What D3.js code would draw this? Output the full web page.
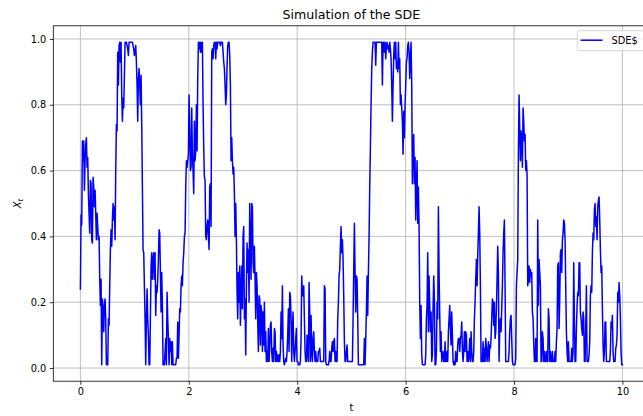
<!DOCTYPE html>
<html>
<head>
<meta charset="utf-8">
<script src="https://cdn.jsdelivr.net/npm/d3@7"></script>
<style>
  body { margin: 0; background: #fff; }
  svg { display: block; }
  text { font-family: "DejaVu Sans", sans-serif; fill: #000; }
</style>
</head>
<body>
<svg id="chart" width="643" height="416"></svg>
<script>
// Simulated path X_t on 0 <= t <= 10, sampled on a uniform grid of 814 points.
const tEnd = 10;
const nSteps = 813;

// Path values, split into consecutive stretches of the time grid.
const stretch1 = [ // t = 0 .. 1.28
  0.24,0.465,0.435,0.69,0.63,0.69,0.54,0.63,0.68,0.70,
  0.61,0.64,0.53,0.47,0.41,0.57,0.56,0.39,0.38,0.58,
  0.55,0.49,0.54,0.47,0.39,0.47,0.43,0.39,0.40,0.27,
  0.19,0.27,0.01,0.21,0.18,0.11,0.19,0.21,0.15,0.01,
  0.01,0.01,0.15,0.13,0.25,0.36,0.42,0.37,0.45,0.50,
  0.45,0.49,0.39,0.60,0.74,0.72,0.96,0.86,0.98,0.99,
  0.93,0.99,0.83,0.75,0.82,0.79,0.89,0.99,0.99,0.99,
  0.98,0.97,0.95,0.99,0.99,0.99,0.99,0.99,0.99,0.98,
  0.97,0.95,0.96,0.98,0.93,0.86,0.75,0.88,0.91,0.86,
  0.80,0.89,0.74,0.55,0.36,0.35,0.25,0.15,0.01,0.15,
  0.24,0.15,0.10,0.01,0.01
];
const stretch2 = [ // t = 1.29 .. 3.12
  0.15,0.31,0.35,0.27,0.33,0.35,0.27,0.35,0.16,0.25,
  0.23,0.27,0.33,0.42,0.41,0.29,0.17,0.29,0.19,0.01,
  0.01,0.01,0.05,0.09,0.01,0.23,0.15,0.09,0.01,0.09,
  0.05,0.08,0.01,0.08,0.01,0.01,0.01,0.01,0.01,0.03,
  0.03,0.14,0.03,0.10,0.18,0.17,0.25,0.28,0.25,0.32,
  0.35,0.40,0.41,0.55,0.63,0.61,0.63,0.65,0.83,0.73,
  0.60,0.61,0.79,0.65,0.60,0.53,0.75,0.63,0.66,0.80,
  0.66,0.88,0.99,0.97,0.99,0.96,0.99,0.96,0.99,0.80,
  0.67,0.58,0.57,0.40,0.39,0.43,0.45,0.41,0.36,0.55,
  0.56,0.43,0.96,0.97,0.94,0.98,0.99,0.99,0.94,0.99,
  0.97,0.99,0.99,0.99,0.99,0.98,0.99,0.99,0.99,0.96,
  0.93,0.91,0.86,0.80,0.83,0.92,0.98,0.99,0.99,0.95,
  0.86,0.63,0.70,0.63,0.59,0.61,0.53,0.40,0.50,0.39,
  0.23,0.15,0.29,0.20,0.31,0.13,0.23,0.31,0.18,0.40,
  0.43,0.15,0.21,0.04,0.25,0.38,0.29,0.36,0.20,0.50
];
const stretch3 = [ // t = 3.14 .. 4.97
  0.37,0.27,0.50,0.49,0.32,0.29,0.37,0.27,0.15,0.29,
  0.25,0.14,0.05,0.22,0.21,0.07,0.19,0.17,0.05,0.17,
  0.07,0.20,0.05,0.11,0.02,0.05,0.02,0.12,0.02,0.06,
  0.13,0.14,0.05,0.02,0.06,0.02,0.12,0.11,0.02,0.05,
  0.02,0.04,0.02,0.04,0.02,0.05,0.17,0.09,0.25,0.07,
  0.02,0.01,0.02,0.03,0.02,0.05,0.10,0.18,0.05,0.23,
  0.22,0.15,0.02,0.12,0.17,0.05,0.02,0.05,0.09,0.12,
  0.02,0.02,0.01,0.01,0.01,0.02,0.09,0.28,0.22,0.22,
  0.25,0.15,0.05,0.02,0.02,0.10,0.05,0.02,0.26,0.17,
  0.02,0.16,0.05,0.02,0.09,0.11,0.05,0.02,0.05,0.02,
  0.02,0.02,0.05,0.05,0.06,0.02,0.02,0.02,0.02,0.02,
  0.02,0.25,0.24,0.02,0.01,0.01,0.01,0.01,0.02,0.05,
  0.02,0.02,0.06,0.08,0.05,0.08,0.09,0.02,0.05,0.02,
  0.02,0.15,0.20,0.28,0.30,0.37,0.43,0.35,0.39,0.33,
  0.22,0.08,0.02,0.02,0.05,0.07,0.02,0.02,0.02,0.02
];
const stretch4 = [ // t = 4.98 .. 6.82
  0.02,0.02,0.02,0.02,0.15,0.30,0.44,0.29,0.17,0.28,
  0.27,0.15,0.01,0.01,0.01,0.01,0.01,0.01,0.01,0.01,
  0.01,0.09,0.01,0.09,0.17,0.28,0.16,0.29,0.40,0.55,
  0.67,0.80,0.91,0.96,0.99,0.99,0.99,0.99,0.92,0.99,
  0.99,0.99,0.99,0.99,0.99,0.99,0.99,0.99,0.86,0.99,
  0.99,0.96,0.99,0.94,0.98,0.99,0.97,0.98,0.96,0.99,
  0.97,0.94,0.86,0.75,0.86,0.95,0.99,0.94,0.99,0.91,
  0.93,0.90,0.99,0.91,0.94,0.80,0.83,0.79,0.75,0.65,
  0.78,0.70,0.80,0.86,0.93,0.94,0.98,0.99,0.96,0.88,
  0.94,0.99,0.86,0.56,0.67,0.71,0.56,0.64,0.45,0.55,
  0.63,0.44,0.55,0.43,0.20,0.09,0.19,0.04,0.01,0.01,
  0.01,0.01,0.01,0.04,0.15,0.19,0.35,0.11,0.28,0.19,
  0.11,0.17,0.02,0.04,0.18,0.28,0.21,0.01,0.01,0.05,
  0.20,0.15,0.49,0.29,0.16,0.05,0.11,0.02,0.04,0.05,
  0.02,0.02,0.08,0.02,0.02,0.05,0.02,0.11,0.15,0.19
];
const stretch5 = [ // t = 6.83 .. 8.47
  0.12,0.07,0.17,0.10,0.02,0.01,0.02,0.01,0.05,0.02,
  0.02,0.07,0.09,0.09,0.05,0.09,0.10,0.14,0.05,0.02,
  0.05,0.11,0.05,0.11,0.10,0.02,0.05,0.02,0.04,0.09,
  0.02,0.11,0.05,0.02,0.02,0.05,0.15,0.20,0.27,0.33,
  0.25,0.34,0.41,0.49,0.41,0.25,0.02,0.02,0.02,0.08,
  0.02,0.06,0.02,0.09,0.06,0.02,0.05,0.08,0.02,0.07,
  0.06,0.09,0.15,0.21,0.20,0.13,0.20,0.09,0.11,0.18,
  0.27,0.37,0.29,0.02,0.12,0.15,0.11,0.18,0.25,0.35,
  0.41,0.45,0.25,0.02,0.02,0.02,0.02,0.02,0.05,0.11,
  0.15,0.16,0.09,0.02,0.01,0.01,0.01,0.01,0.03,0.25,
  0.29,0.33,0.65,0.83,0.73,0.63,0.72,0.68,0.61,0.79,
  0.75,0.69,0.71,0.60,0.63,0.59,0.25,0.27,0.31,0.26,
  0.30,0.28,0.29,0.17,0.15,0.08,0.02,0.02,0.09,0.02,
  0.02,0.45,0.19,0.33,0.29
];
const stretch6 = [ // t = 8.49 .. 10
  0.25,0.02,0.02,0.11,0.09,0.02,0.05,0.02,0.02,0.05,
  0.02,0.02,0.18,0.15,0.02,0.05,0.02,0.02,0.05,0.02,
  0.02,0.02,0.05,0.02,0.08,0.12,0.31,0.32,0.12,0.21,
  0.35,0.36,0.29,0.39,0.41,0.45,0.44,0.39,0.25,0.11,
  0.05,0.02,0.08,0.02,0.02,0.02,0.02,0.06,0.02,0.05,
  0.32,0.15,0.02,0.02,0.12,0.19,0.23,0.22,0.32,0.32,
  0.17,0.15,0.12,0.10,0.17,0.15,0.02,0.02,0.12,0.25,
  0.02,0.02,0.02,0.04,0.08,0.22,0.25,0.23,0.35,0.41,
  0.39,0.48,0.50,0.43,0.46,0.39,0.49,0.51,0.52,0.45,
  0.36,0.29,0.31,0.18,0.07,0.02,0.05,0.14,0.14,0.02,
  0.02,0.02,0.02,0.02,0.02,0.05,0.14,0.12,0.16,0.05,
  0.02,0.02,0.02,0.06,0.07,0.10,0.23,0.20,0.26,0.22,
  0.15,0.05,0.01,0.01
];

const xTickValues = [0, 2, 4, 6, 8, 10];
const yTickValues = [0.0, 0.2, 0.4, 0.6, 0.8, 1.0];
const chartTitle = "Simulation of the SDE";
const xLabel = "t";
const seriesName = "SDE$";

// Assemble (t, x) pairs on the uniform grid.
const dt = tEnd / nSteps;
const series = [stretch1, stretch2, stretch3, stretch4, stretch5, stretch6]
  .flat()
  .map((v, i) => ({ t: i * dt, x: v }));

// Plot geometry
const plot = { left: 53.3, right: 649.5, top: 25.8, bottom: 381.2 };

const xScale = d3.scaleLinear().domain([-0.5, 10.5]).range([plot.left, plot.right]);
const yScale = d3.scaleLinear().domain([-0.04, 1.04]).range([plot.bottom, plot.top]);

const svg = d3.select("#chart");

svg.append("rect").attr("width", 643).attr("height", 416).attr("fill", "#fff");

svg.append("defs").append("clipPath").attr("id", "plotClip")
  .append("rect")
  .attr("x", plot.left).attr("y", plot.top)
  .attr("width", plot.right - plot.left).attr("height", plot.bottom - plot.top);

// Grid
const grid = svg.append("g").attr("clip-path", "url(#plotClip)");
grid.selectAll("line.gx").data(xTickValues).join("line")
  .attr("class", "gx")
  .attr("x1", d => xScale(d)).attr("x2", d => xScale(d))
  .attr("y1", plot.top).attr("y2", plot.bottom)
  .attr("stroke", "#b0b0b0").attr("stroke-width", 0.8);
grid.selectAll("line.gy").data(yTickValues).join("line")
  .attr("class", "gy")
  .attr("x1", plot.left).attr("x2", plot.right)
  .attr("y1", d => yScale(d)).attr("y2", d => yScale(d))
  .attr("stroke", "#b0b0b0").attr("stroke-width", 0.8);

// Path of the process
const line = d3.line().x(d => xScale(d.t)).y(d => yScale(d.x));
svg.append("path")
  .datum(series)
  .attr("clip-path", "url(#plotClip)")
  .attr("d", line)
  .attr("fill", "none")
  .attr("stroke", "#0000ff")
  .attr("stroke-width", 1.5)
  .attr("stroke-linejoin", "round")
  .attr("stroke-linecap", "square");

// Axes
const xAxis = d3.axisBottom(xScale).tickValues(xTickValues)
  .tickFormat(d3.format("d")).tickSize(3.5).tickPadding(3.5);
const yAxis = d3.axisLeft(yScale).tickValues(yTickValues)
  .tickFormat(d3.format(".1f")).tickSize(3.5).tickPadding(3.5);

const gx = svg.append("g").attr("transform", `translate(0,${plot.bottom})`).call(xAxis);
const gy = svg.append("g").attr("transform", `translate(${plot.left},0)`).call(yAxis);
[gx, gy].forEach(g => {
  g.select(".domain").remove();
  g.selectAll(".tick line").attr("stroke", "#000").attr("stroke-width", 0.8);
  g.selectAll(".tick text").attr("font-size", 9.8).attr("fill", "#000")
    .attr("font-family", "DejaVu Sans, sans-serif");
});

// Spines
svg.append("rect")
  .attr("x", plot.left).attr("y", plot.top)
  .attr("width", plot.right - plot.left).attr("height", plot.bottom - plot.top)
  .attr("fill", "none").attr("stroke", "#000").attr("stroke-width", 0.8);

// Title and axis labels
const midX = (plot.left + plot.right) / 2;
svg.append("text").attr("x", midX).attr("y", 18.5)
  .attr("text-anchor", "middle").attr("font-size", 12.6).text(chartTitle);

svg.append("text").attr("x", midX).attr("y", 411)
  .attr("text-anchor", "middle").attr("font-size", 9.8).text(xLabel);

const yLab = svg.append("text")
  .attr("transform", `translate(21,${(plot.top + plot.bottom) / 2}) rotate(-90)`)
  .attr("text-anchor", "middle").attr("font-size", 9.8);
yLab.append("tspan").attr("font-style", "italic").text("X");
yLab.append("tspan").attr("font-style", "italic").attr("font-size", 7)
  .attr("dy", 2).text("t");

// Legend
const legend = svg.append("g");
legend.append("rect")
  .attr("x", 577.3).attr("y", 30.7).attr("width", 66.5).attr("height", 20)
  .attr("rx", 2).attr("ry", 2)
  .attr("fill", "#fff").attr("fill-opacity", 0.8)
  .attr("stroke", "#cccccc").attr("stroke-width", 0.8);
legend.append("line")
  .attr("x1", 580.5).attr("x2", 602.5).attr("y1", 40.2).attr("y2", 40.2)
  .attr("stroke", "#0000ff").attr("stroke-width", 1.5);
legend.append("text").attr("x", 611.5).attr("y", 44)
  .attr("font-size", 9.8).text(seriesName);
</script>
</body>
</html>
